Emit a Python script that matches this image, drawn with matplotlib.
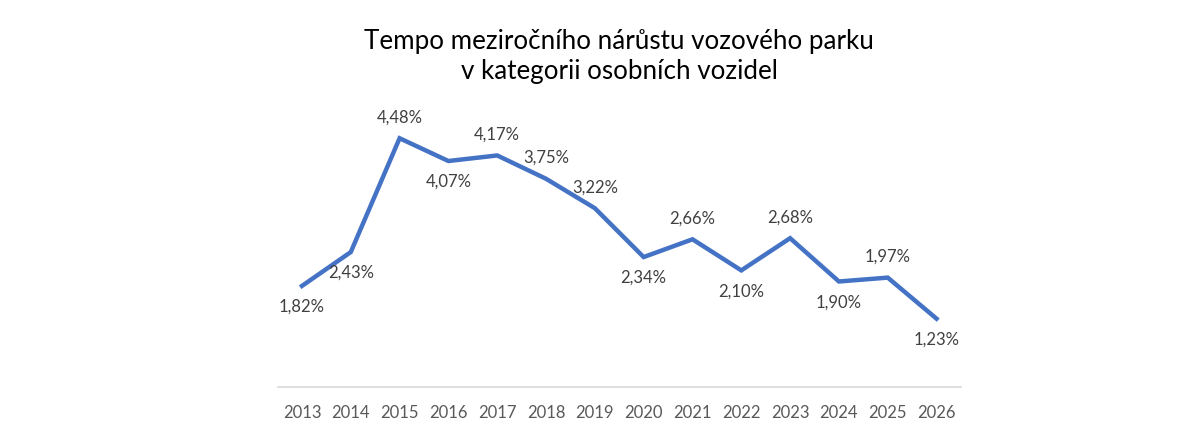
import matplotlib.pyplot as plt

years = ['2013', '2014', '2015', '2016', '2017', '2018', '2019',
         '2020', '2021', '2022', '2023', '2024', '2025', '2026']
growth = [1.82, 2.43, 4.48, 4.07, 4.17, 3.75, 3.22,
          2.34, 2.66, 2.10, 2.68, 1.90, 1.97, 1.23]
# where each data label sits relative to its point
label_pos = ['below', 'below', 'above', 'below', 'above', 'above', 'above',
             'below', 'above', 'below', 'above', 'below', 'above', 'below']

plt.rcParams['font.family'] = ['Lato', 'DejaVu Sans']

fig = plt.figure(figsize=(12, 4.4), dpi=100)
ax = fig.add_axes([0.2313, 0.1205, 0.5695, 0.641])

x = list(range(len(years)))
ax.plot(x, growth, color='#4472C4', linewidth=3.2, solid_joinstyle='miter')

for xi, v, pos in zip(x, growth, label_pos):
    dy = 15 if pos == 'above' else -15
    ax.annotate(f"{v:.2f}%".replace('.', ','), xy=(xi, v), xytext=(0, dy),
                textcoords='offset points', ha='center', va='center',
                fontsize=12, color='#404040')

ax.set_xlim(-0.5, len(years) - 0.5)
ax.set_ylim(0, 5.08)
ax.set_xticks(x)
ax.set_xticklabels(years, fontsize=12, color='#595959')
ax.set_yticks([])
ax.tick_params(axis='x', length=0, pad=13)

for side in ['top', 'right', 'left']:
    ax.spines[side].set_visible(False)
ax.spines['bottom'].set_color('#D9D9D9')
ax.spines['bottom'].set_linewidth(1.2)

fig.text(0.516, 0.872, "Tempo meziročního nárůstu vozového parku\nv kategorii osobních vozidel",
         ha='center', va='center', fontsize=18.7, color='#000000', linespacing=1.25)

fig.savefig('out.png', dpi=100, facecolor='white')
